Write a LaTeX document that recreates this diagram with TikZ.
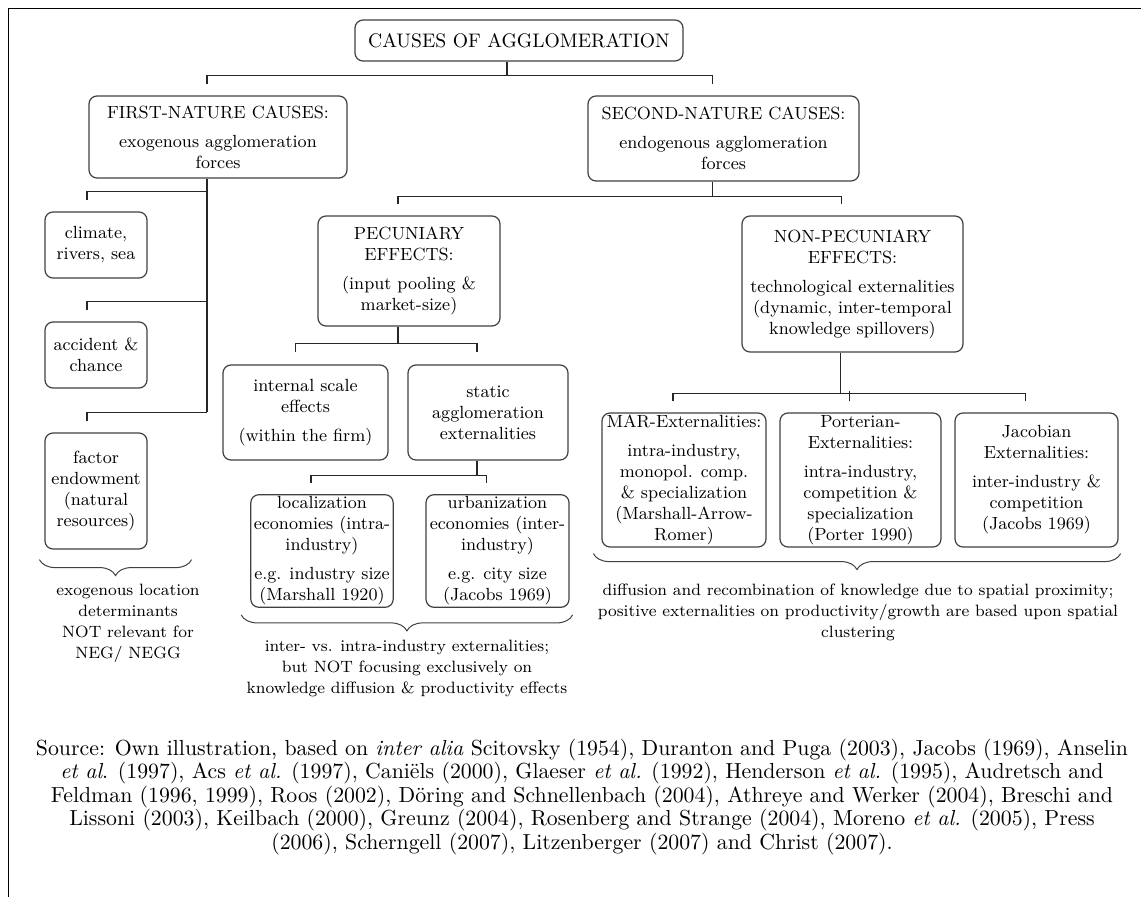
\documentclass[tikz,border=0pt]{standalone}
\usetikzlibrary{decorations.pathreplacing}

\begin{document}
\begin{tikzpicture}[x=0.5pt,y=-0.5pt,
    box/.style={draw=black!75,line width=0.6pt,rounded corners=4pt,align=center,
      inner xsep=1.5pt,inner ysep=1pt,font=\fontsize{8.8}{10.5}\selectfont},
    conn/.style={draw=black!85,line width=0.6pt},
    brc/.style={draw=black!75,line width=0.5pt,decorate,decoration={brace,mirror,amplitude=8pt}},
    note/.style={align=center,inner sep=0pt,font=\fontsize{8.2}{10.5}\selectfont}]
   \useasboundingbox (0,0) rectangle (1141,897);
   \draw[line width=0.5pt] (8,897) -- (8,9) -- (1141,9);

   \node[box,minimum width=164pt,minimum height=20.5pt,font=\fontsize{9.8}{11}\selectfont] (title) at (519,40.5) {CAUSES OF AGGLOMERATION};

   \node[box,minimum width=129pt,minimum height=41pt] (first) at (218,137)
     {FIRST-NATURE CAUSES:\\[4pt] exogenous agglomeration\\ forces};
   \node[box,minimum width=135.5pt,minimum height=42.5pt] (second) at (723.5,138.5)
     {SECOND-NATURE CAUSES:\\[4pt] endogenous agglomeration\\ forces};

   \node[box,minimum width=51pt,minimum height=33pt] (climate) at (96,245) {climate,\\ rivers, sea};
   \node[box,minimum width=51pt,minimum height=33pt] (accident) at (96,355) {accident \&\\ chance};
   \node[box,minimum width=51pt,minimum height=58pt] (factor) at (96,491) {factor\\ endowment\\ (natural\\ resources)};

   \node[box,minimum width=91pt,minimum height=55pt] (pec) at (409,271)
     {PECUNIARY\\ EFFECTS:\\[4pt] (input pooling \&\\ market-size)};
   \node[box,minimum width=82.5pt,minimum height=47.5pt] (internal) at (305.5,412.5)
     {internal scale\\ effects\\[4pt] (within the firm)};
   \node[box,minimum width=80pt,minimum height=47.5pt] (static) at (488,412.5)
     {static\\ agglomeration\\ externalities};
   \node[box,minimum width=71pt,minimum height=55pt] (loc) at (322,551)
     {localization\\ economies (intra-\\ industry)\\[4pt] e.g. industry size\\ (Marshall 1920)};
   \node[box,minimum width=71.5pt,minimum height=55pt] (urb) at (497.5,551)
     {urbanization\\ economies (inter-\\ industry)\\[4pt] e.g. city size\\ (Jacobs 1969)};

   \node[box,minimum width=110.5pt,minimum height=68pt] (nonpec) at (852.5,284)
     {NON-PECUNIARY\\ EFFECTS:\\[4pt] technological externalities\\ (dynamic, inter-temporal\\ knowledge spillovers)};
   \node[box,minimum width=82pt,minimum height=67pt] (mar) at (684,480)
     {MAR-Externalities:\\[4pt] intra-industry,\\ monopol. comp.\\ \& specialization\\ (Marshall-Arrow-\\ Romer)};
   \node[box,minimum width=80.5pt,minimum height=67pt] (porter) at (860.5,480)
     {Porterian-\\ Externalities:\\[4pt] intra-industry,\\ competition \&\\ specialization\\ (Porter 1990)};
   \node[box,minimum width=81.5pt,minimum height=67pt] (jacob) at (1036.5,480)
     {Jacobian\\ Externalities:\\[4pt] inter-industry \&\\ competition\\ (Jacobs 1969)};

   \draw[conn] ([xshift=-6pt]title.south) -- ++(0,14) coordinate (tj);
   \draw[conn] ([xshift=-5.5pt,yshift=5.5pt]first.north) |- (tj) -| ([xshift=-5.5pt,yshift=5.5pt]second.north);

   \coordinate (trunk) at ([xshift=-5.5pt]first.south);
   \draw[conn] (trunk) -- ([yshift=10pt]factor.north -| trunk);
   \foreach \n in {climate,accident,factor}
     \draw[conn] ([xshift=-4.5pt,yshift=5.5pt]\n.north) |- ([yshift=10pt]\n.north -| trunk);

   \draw[conn] ([xshift=-5.5pt]second.south) -- ++(0,15) coordinate (sj);
   \draw[conn] ([xshift=-5.5pt,yshift=5.5pt]pec.north) |- (sj) -| ([xshift=-5.5pt,yshift=5.5pt]nonpec.north);

   \draw[conn] ([xshift=-5.5pt]pec.south) -- ++(0,17) coordinate (pj);
   \draw[conn] ([xshift=-5pt,yshift=6pt]internal.north) |- (pj) -| ([xshift=-5.5pt,yshift=6pt]static.north);

   \draw[conn] ([xshift=-5.5pt]static.south) -- ++(0,15) coordinate (aj);
   \draw[conn] ([xshift=-5.5pt,yshift=5.5pt]loc.north) |- (aj) -| ([xshift=-5.5pt,yshift=5.5pt]urb.north);

   \draw[conn] ([xshift=-6pt]nonpec.south) -- ++(0,41) coordinate (nj);
   \draw[conn] ([xshift=-5.5pt,yshift=5.5pt]mar.north) |- (nj) -| ([xshift=-5.5pt,yshift=5.5pt]jacob.north);
   \draw[conn] ([xshift=-5.5pt,yshift=5.5pt]porter.north) -- ++(0,-10);

   \draw[brc] ([xshift=-2.5pt,yshift=-5pt]factor.south west) -- ([xshift=22pt,yshift=-5pt]factor.south east);
   \draw[brc] ([xshift=-4.5pt,yshift=-3.5pt]loc.south west) -- ([xshift=1.5pt,yshift=-3.5pt]urb.south east);
   \draw[brc] ([xshift=-4pt,yshift=-3pt]mar.south west) -- ([xshift=1pt,yshift=-3pt]jacob.south east);

   \node[note] (exonote) at (128,623.5) {exogenous location\\ determinants\\ NOT relevant for\\ NEG/ NEGG};
   \node[note] (statnote) at (407,668) {inter- vs. intra-industry externalities;\\ but NOT focusing exclusively on\\ knowledge diffusion \& productivity effects};
   \node[note] (dynnote) at (858,612) {diffusion and recombination of knowledge due to spatial proximity;\\ positive externalities on productivity/growth are based upon spatial\\ clustering};

   \node[align=center,inner sep=0pt,font=\fontsize{10.9}{11.75}\selectfont] (source) at (582,797)
     {Source: Own illustration, based on \textit{inter alia} Scitovsky (1954), Duranton and Puga (2003), Jacobs (1969), Anselin\\
      \textit{et al}. (1997), Acs \textit{et al.} (1997), Caniëls (2000), Glaeser \textit{et al.} (1992), Henderson \textit{et al.} (1995), Audretsch and\\
      Feldman (1996, 1999), Roos (2002), Döring and Schnellenbach (2004), Athreye and Werker (2004), Breschi and\\
      Lissoni (2003), Keilbach (2000), Greunz (2004), Rosenberg and Strange (2004), Moreno \textit{et al.} (2005), Press\\
      (2006), Scherngell (2007), Litzenberger (2007) and Christ (2007).};
  \end{tikzpicture}
\end{document}
